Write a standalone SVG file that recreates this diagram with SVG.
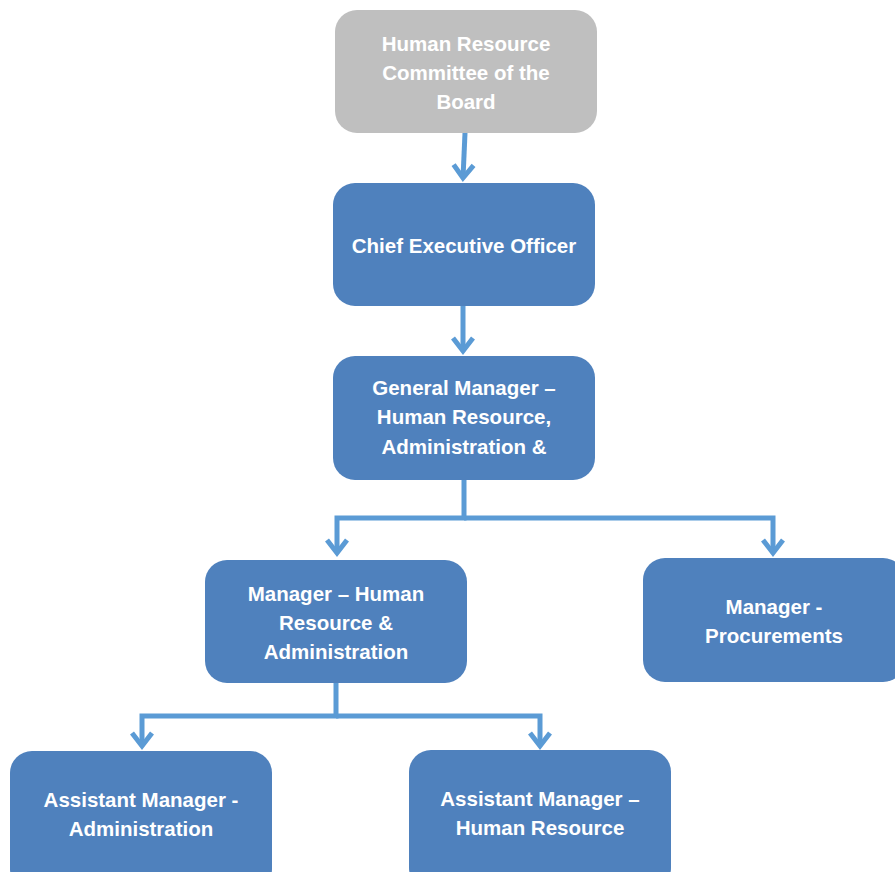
<svg xmlns="http://www.w3.org/2000/svg" width="895" height="872" viewBox="0 0 895 872">
<defs>
<style>
.box{fill:#4F81BD;}
.gray{fill:#BFBFBF;}
.t{font-family:"Liberation Sans",Arial,sans-serif;font-weight:bold;font-size:20.5px;fill:#FFFFFF;text-anchor:middle;dominant-baseline:central;}
.c{fill:none;stroke:#5B9BD5;stroke-width:5;stroke-linejoin:miter;}
</style>
<marker id="ah" markerUnits="userSpaceOnUse" markerWidth="30" markerHeight="30" viewBox="-15 -15 30 30" refX="0" refY="0" orient="auto">
<path d="M-13,-10 L0,0 L-13,10" fill="none" stroke="#5B9BD5" stroke-width="5" stroke-linejoin="miter"/>
</marker>
</defs>
<rect width="895" height="872" fill="#FFFFFF"/>
<g id="connectors">
<path class="c" d="M465,133 L463,178" marker-end="url(#ah)"/>
<path class="c" d="M463,306 L463,351" marker-end="url(#ah)"/>
<path class="c" d="M464,480 L464,518 L337,518 L337,553" marker-end="url(#ah)"/>
<path class="c" d="M464,518 L773,518 L773,553" marker-end="url(#ah)"/>
<path class="c" d="M336,683 L336,716 L142,716 L142,746" marker-end="url(#ah)"/>
<path class="c" d="M336,716 L540,716 L540,746" marker-end="url(#ah)"/>
</g>
<g id="hr-committee">
<rect class="gray" x="335" y="10" width="262" height="123" rx="22"/>
<text class="t" x="466" y="43">Human Resource</text>
<text class="t" x="466" y="72">Committee of the</text>
<text class="t" x="466" y="101">Board</text>
</g>
<g id="ceo">
<rect class="box" x="333" y="183" width="262" height="123" rx="22"/>
<text class="t" x="464" y="245">Chief Executive Officer</text>
</g>
<g id="gm">
<rect class="box" x="333" y="356" width="262" height="124" rx="22"/>
<text class="t" x="464" y="387">General Manager –</text>
<text class="t" x="464" y="416">Human Resource,</text>
<text class="t" x="464" y="446">Administration &amp;</text>
</g>
<g id="manager-hr">
<rect class="box" x="205" y="560" width="262" height="123" rx="22"/>
<text class="t" x="336" y="593">Manager – Human</text>
<text class="t" x="336" y="622">Resource &amp;</text>
<text class="t" x="336" y="651">Administration</text>
</g>
<g id="manager-procurements">
<rect class="box" x="643" y="558" width="262" height="124" rx="22"/>
<text class="t" x="774" y="606">Manager -</text>
<text class="t" x="774" y="635">Procurements</text>
</g>
<g id="am-admin">
<rect class="box" x="10" y="751" width="262" height="140" rx="22"/>
<text class="t" x="141" y="799">Assistant Manager -</text>
<text class="t" x="141" y="828">Administration</text>
</g>
<g id="am-hr">
<rect class="box" x="409" y="750" width="262" height="140" rx="22"/>
<text class="t" x="540" y="798">Assistant Manager –</text>
<text class="t" x="540" y="827">Human Resource</text>
</g>
</svg>
